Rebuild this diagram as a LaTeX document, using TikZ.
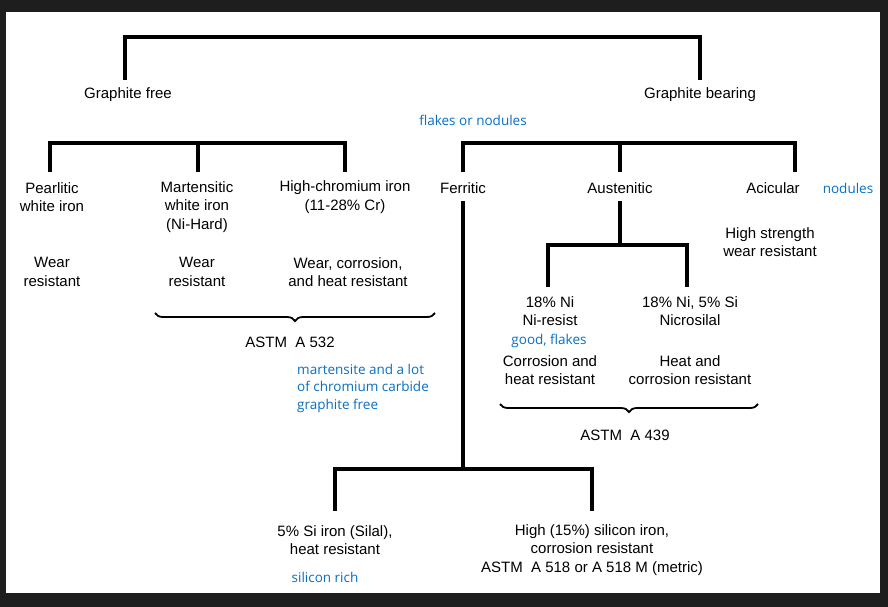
\documentclass[tikz,border=0pt]{standalone}
\usepackage{fontspec}
\setmainfont{Liberation Sans}
\newfontfamily\notefont{Open Sans}
\usetikzlibrary{decorations.pathreplacing}
\definecolor{notecol}{HTML}{0A6FC2}
\definecolor{framecol}{HTML}{1E1E1E}
\tikzset{
  lbl/.style={align=center, font=\fontsize{15}{18.5}\selectfont, inner sep=1pt},
  note/.style={align=left, font=\notefont\fontsize{13.5}{17.5}\selectfont, text=notecol, inner sep=0pt},
  tree/.style={line width=3.6pt, line cap=butt},
  brc/.style={decorate, decoration={brace, mirror, amplitude=8pt}, line width=1.8pt}
}
\begin{document}
\begin{tikzpicture}[x=1pt, y=-1pt]
  \fill[framecol] (0,0) rectangle (888,607);
  \fill[white] (6,12) rectangle (880,593);
  \useasboundingbox (0,0) rectangle (888,607);
  % top level
  \node[lbl] (free) at (128,95) {Graphite free};
  \node[lbl] (bearing) at (700,95) {Graphite bearing};
  \coordinate (top) at (400,37);
  \draw[tree] (125,80) coordinate (t1) -- (t1 |- top) -- (700,37) -- (700,80);
  % graphite free branch
  \node[lbl] (pearl) at (52,197) {Pearlitic\\white iron};
  \node[lbl] (mart) at (197,207) {Martensitic\\white iron\\(Ni-Hard)};
  \node[lbl] (hicr) at (345,197) {High-chromium iron\\(11-28\% Cr)};
  \coordinate (fj) at (198,143);
  \draw[tree] (50,172) coordinate (p1) -- (p1 |- fj) -- (345,143) -- (345,172);
  \draw[tree] (fj) -- (198,172);
  \node[lbl] (wr1) at (52,272) {Wear\\resistant};
  \node[lbl] (wr2) at (197,272) {Wear\\resistant};
  \node[lbl] (wr3) at (348,272) {Wear, corrosion,\\and heat resistant};
  \coordinate (b1l) at (155,313);
  \coordinate (b1r) at (435,313);
  \draw[brc] (b1l) -- (b1r);
  \node[lbl] (a532) at (290,342) {ASTM\ \ A 532};
  \node[note, anchor=north west] (n532) at (297,364) {martensite and a lot\\of chromium carbide\\graphite free};
  % graphite bearing branch
  \node[note] (flk) at (473,120) {flakes or nodules};
  \node[lbl] (ferr) at (463,188) {Ferritic};
  \node[lbl] (aust) at (620,188) {Austenitic};
  \node[lbl] (acic) at (773,188) {Acicular};
  \node[note] (nod) at (848,188) {nodules};
  \coordinate (bj) at (620,143);
  \draw[tree] (463,172) coordinate (f1) -- (f1 |- bj) -- (795,143) -- (795,172);
  \draw[tree] (bj) -- (620,172);
  \node[lbl] (hs) at (770,242) {High strength\\wear resistant};
  % austenitic
  \node[lbl] (nires) at (550,311) {18\% Ni\\Ni-resist};
  \node[note] (gf) at (549,341) {good, flakes};
  \node[lbl] (nicro) at (690,311) {18\% Ni, 5\% Si\\Nicrosilal};
  \node[lbl] (chr) at (550,370) {Corrosion and\\heat resistant};
  \node[lbl] (hcr) at (690,370) {Heat and\\corrosion resistant};
  \coordinate (aj) at (620,245);
  \draw[tree] (aust.south |- 0,201) -- (aj);
  \draw[tree] (548,287) coordinate (a1) -- (a1 |- aj) -- (687,245) -- (687,287);
  \coordinate (b2l) at (500,404);
  \coordinate (b2r) at (758,404);
  \draw[brc] (b2l) -- (b2r);
  \node[lbl] (a439) at (625,435) {ASTM\ \ A 439};
  % ferritic
  \coordinate (sj) at (463,469);
  \draw[tree] (ferr.south |- 0,201) -- (sj);
  \node[lbl] (silal) at (335,540) {5\% Si iron (Silal),\\heat resistant};
  \node[note] (sr) at (325,577) {silicon rich};
  \node[lbl] (hisi) at (592,550) {High (15\%) silicon iron,\\corrosion resistant\\ASTM\ \ A 518 or A 518 M (metric)};
  \draw[tree] (335,511) coordinate (s1) -- (s1 |- sj) -- (592,469) -- (592,511);
\end{tikzpicture}
\end{document}
